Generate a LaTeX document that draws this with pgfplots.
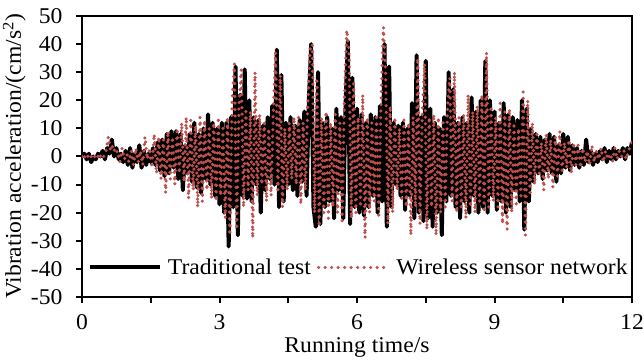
\documentclass[border=0pt]{standalone}
\usepackage{pgfplots}
\usepackage{pgfplotstable}
\pgfplotsset{compat=1.18}
\usepackage{fontspec}
\setmainfont{Liberation Serif}[FakeStretch=1.05]
\definecolor{wsnred}{RGB}{192,80,77}

% Acceleration record from the wired reference instrument
\pgfplotstableread[row sep=\\]{
t y \\
0.00 0 \\ 0.05 1 \\ 0.10 -1 \\ 0.15 1 \\ 0.20 -2 \\ 0.25 0 \\ 0.30 -1 \\ 0.35 1 \\ 0.40 0 \\ 0.45 2 \\
0.50 -1 \\ 0.55 3 \\ 0.60 1 \\ 0.65 6 \\ 0.70 0 \\ 0.75 3 \\ 0.80 -1 \\ 0.85 1 \\ 0.90 -2 \\ 0.95 2 \\
1.00 -3 \\ 1.05 3 \\ 1.10 -4 \\ 1.15 1 \\ 1.20 -2 \\ 1.25 4 \\ 1.30 -4 \\ 1.35 2 \\ 1.40 -3 \\ 1.45 1 \\
1.50 -2 \\ 1.55 3 \\ 1.60 -3 \\ 1.65 5 \\ 1.70 -5 \\ 1.75 6 \\ 1.80 -7 \\ 1.85 8 \\ 1.90 -6 \\ 1.95 9 \\
2.00 -4 \\ 2.05 9 \\ 2.10 -8 \\ 2.15 8 \\ 2.20 -12 \\ 2.25 4 \\ 2.30 -6 \\ 2.35 8 \\ 2.40 -9 \\ 2.45 12 \\
2.50 -11 \\ 2.55 8 \\ 2.60 -13 \\ 2.65 10 \\ 2.70 -8 \\ 2.75 15 \\ 2.80 -10 \\ 2.85 12 \\ 2.90 -14 \\ 2.95 10 \\
3.00 -17 \\ 3.05 12 \\ 3.10 -20 \\ 3.15 12 \\ 3.20 -32 \\ 3.25 14 \\ 3.30 -18 \\ 3.35 32 \\ 3.40 -28 \\ 3.45 22 \\
3.50 -14 \\ 3.55 31 \\ 3.60 -15 \\ 3.65 20 \\ 3.70 -16 \\ 3.75 14 \\ 3.80 -10 \\ 3.85 13 \\ 3.90 -20 \\ 3.95 11 \\
4.00 -12 \\ 4.05 14 \\ 4.10 -8 \\ 4.15 18 \\ 4.20 -10 \\ 4.25 38 \\ 4.30 -18 \\ 4.35 29 \\ 4.40 -16 \\ 4.45 12 \\
4.50 -10 \\ 4.55 14 \\ 4.60 -12 \\ 4.65 11 \\ 4.70 -14 \\ 4.75 13 \\ 4.80 -9 \\ 4.85 16 \\ 4.90 -14 \\ 4.95 20 \\
5.00 40 \\ 5.05 -18 \\ 5.10 -25 \\ 5.15 30 \\ 5.20 -24 \\ 5.25 12 \\ 5.30 -18 \\ 5.35 14 \\ 5.40 -16 \\ 5.45 10 \\
5.50 -22 \\ 5.55 17 \\ 5.60 -12 \\ 5.65 14 \\ 5.70 -22 \\ 5.75 18 \\ 5.80 41 \\ 5.85 -24 \\ 5.90 28 \\ 5.95 -18 \\
6.00 17 \\ 6.05 -20 \\ 6.10 15 \\ 6.15 -21 \\ 6.20 12 \\ 6.25 -18 \\ 6.30 15 \\ 6.35 -14 \\ 6.40 14 \\ 6.45 -20 \\
6.50 18 \\ 6.55 -16 \\ 6.60 40 \\ 6.65 -25 \\ 6.70 32 \\ 6.75 -18 \\ 6.80 12 \\ 6.85 -10 \\ 6.90 11 \\ 6.95 -14 \\
7.00 12 \\ 7.05 -19 \\ 7.10 10 \\ 7.15 -14 \\ 7.20 19 \\ 7.25 -22 \\ 7.30 36 \\ 7.35 -20 \\ 7.40 14 \\ 7.45 -23 \\
7.50 34 \\ 7.55 -22 \\ 7.60 17 \\ 7.65 -25 \\ 7.70 12 \\ 7.75 -20 \\ 7.80 10 \\ 7.85 -28 \\ 7.90 14 \\ 7.95 -16 \\
8.00 30 \\ 8.05 -14 \\ 8.10 24 \\ 8.15 -18 \\ 8.20 12 \\ 8.25 -22 \\ 8.30 14 \\ 8.35 -16 \\ 8.40 12 \\ 8.45 -20 \\
8.50 21 \\ 8.55 -14 \\ 8.60 16 \\ 8.65 -20 \\ 8.70 20 \\ 8.75 -18 \\ 8.80 34 \\ 8.85 -20 \\ 8.90 20 \\ 8.95 -14 \\
9.00 16 \\ 9.05 -19 \\ 9.10 12 \\ 9.15 -16 \\ 9.20 19 \\ 9.25 -20 \\ 9.30 15 \\ 9.35 -18 \\ 9.40 14 \\ 9.45 -12 \\
9.50 13 \\ 9.55 -16 \\ 9.60 20 \\ 9.65 -26 \\ 9.70 17 \\ 9.75 -16 \\ 9.80 10 \\ 9.85 -9 \\ 9.90 8 \\ 9.95 -6 \\
10.00 7 \\ 10.05 -8 \\ 10.10 6 \\ 10.15 -5 \\ 10.20 8 \\ 10.25 -6 \\ 10.30 7 \\ 10.35 -9 \\ 10.40 4 \\ 10.45 -6 \\
10.50 8 \\ 10.55 -4 \\ 10.60 7 \\ 10.65 -5 \\ 10.70 4 \\ 10.75 -3 \\ 10.80 3 \\ 10.85 -4 \\ 10.90 2 \\ 10.95 -3 \\
11.00 6 \\ 11.05 -2 \\ 11.10 2 \\ 11.15 -3 \\ 11.20 1 \\ 11.25 -2 \\ 11.30 2 \\ 11.35 -1 \\ 11.40 3 \\ 11.45 -2 \\
11.50 2 \\ 11.55 -1 \\ 11.60 3 \\ 11.65 -1 \\ 11.70 2 \\ 11.75 0 \\ 11.80 3 \\ 11.85 -1 \\ 11.90 3 \\ 11.95 1 \\
12.00 5 \\
}\traditional

% Acceleration record from the wireless sensor network
\pgfplotstableread[row sep=\\]{
t y \\
0.000 0 \\
0.025 1 \\ 0.075 -1 \\ 0.125 0 \\ 0.175 1 \\ 0.225 -1 \\ 0.275 0 \\ 0.325 1 \\ 0.375 -1 \\ 0.425 1 \\ 0.475 0 \\
0.525 2 \\ 0.575 7 \\ 0.625 2 \\ 0.675 4 \\ 0.725 1 \\ 0.775 2 \\ 0.825 -2 \\ 0.875 3 \\ 0.925 -1 \\ 0.975 1 \\
1.025 -2 \\ 1.075 2 \\ 1.125 -3 \\ 1.175 3 \\ 1.225 -2 \\ 1.275 2 \\ 1.325 -3 \\ 1.375 7 \\ 1.425 -1 \\ 1.475 3 \\
1.525 -4 \\ 1.575 8 \\ 1.625 -6 \\ 1.675 7 \\ 1.725 -8 \\ 1.775 6 \\ 1.825 -13 \\ 1.875 9 \\ 1.925 -8 \\ 1.975 7 \\
2.025 -10 \\ 2.075 10 \\ 2.125 -6 \\ 2.175 12 \\ 2.225 -9 \\ 2.275 14 \\ 2.325 -15 \\ 2.375 13 \\ 2.425 -12 \\ 2.475 11 \\
2.525 -18 \\ 2.575 14 \\ 2.625 -16 \\ 2.675 13 \\ 2.725 -12 \\ 2.775 10 \\ 2.825 -15 \\ 2.875 12 \\ 2.925 -16 \\ 2.975 14 \\
3.025 -14 \\ 3.075 10 \\ 3.125 -22 \\ 3.175 14 \\ 3.225 -28 \\ 3.275 20 \\ 3.325 33 \\ 3.375 -26 \\ 3.425 18 \\ 3.475 31 \\
3.525 -18 \\ 3.575 16 \\ 3.625 -12 \\ 3.675 16 \\ 3.725 -29 \\ 3.775 30 \\ 3.825 -14 \\ 3.875 15 \\ 3.925 -10 \\ 3.975 12 \\
4.025 -16 \\ 4.075 10 \\ 4.125 -14 \\ 4.175 16 \\ 4.225 37 \\ 4.275 -12 \\ 4.325 29 \\ 4.375 -18 \\ 4.425 10 \\ 4.475 -12 \\
4.525 12 \\ 4.575 -8 \\ 4.625 14 \\ 4.675 -10 \\ 4.725 15 \\ 4.775 -17 \\ 4.825 12 \\ 4.875 -12 \\ 4.925 18 \\ 4.975 38 \\
5.025 40 \\ 5.075 -20 \\ 5.125 28 \\ 5.175 -25 \\ 5.225 14 \\ 5.275 -20 \\ 5.325 16 \\ 5.375 -22 \\ 5.425 12 \\ 5.475 -18 \\
5.525 15 \\ 5.575 -20 \\ 5.625 12 \\ 5.675 -24 \\ 5.725 20 \\ 5.775 45 \\ 5.825 38 \\ 5.875 -22 \\ 5.925 26 \\ 5.975 -20 \\
6.025 14 \\ 6.075 -18 \\ 6.125 22 \\ 6.175 -29 \\ 6.225 14 \\ 6.275 -20 \\ 6.325 12 \\ 6.375 -16 \\ 6.425 15 \\ 6.475 -22 \\
6.525 20 \\ 6.575 46 \\ 6.625 30 \\ 6.675 -24 \\ 6.725 18 \\ 6.775 -20 \\ 6.825 14 \\ 6.875 -12 \\ 6.925 10 \\ 6.975 -16 \\
7.025 13 \\ 7.075 -18 \\ 7.125 12 \\ 7.175 -28 \\ 7.225 14 \\ 7.275 -18 \\ 7.325 35 \\ 7.375 -24 \\ 7.425 16 \\ 7.475 33 \\
7.525 -26 \\ 7.575 14 \\ 7.625 -18 \\ 7.675 15 \\ 7.725 -28 \\ 7.775 14 \\ 7.825 -20 \\ 7.875 12 \\ 7.925 -18 \\ 7.975 18 \\
8.025 28 \\ 8.075 -16 \\ 8.125 30 \\ 8.175 -20 \\ 8.225 14 \\ 8.275 -18 \\ 8.325 15 \\ 8.375 -22 \\ 8.425 22 \\ 8.475 -18 \\
8.525 16 \\ 8.575 -20 \\ 8.625 18 \\ 8.675 -16 \\ 8.725 22 \\ 8.775 -20 \\ 8.825 37 \\ 8.875 -18 \\ 8.925 18 \\ 8.975 -16 \\
9.025 14 \\ 9.075 -18 \\ 9.125 19 \\ 9.175 -24 \\ 9.225 16 \\ 9.275 -26 \\ 9.325 17 \\ 9.375 -20 \\ 9.425 12 \\ 9.475 -18 \\
9.525 10 \\ 9.575 -14 \\ 9.625 23 \\ 9.675 -28 \\ 9.725 20 \\ 9.775 -14 \\ 9.825 12 \\ 9.875 -10 \\ 9.925 9 \\ 9.975 -6 \\
10.025 5 \\ 10.075 -12 \\ 10.125 8 \\ 10.175 -8 \\ 10.225 6 \\ 10.275 -11 \\ 10.325 7 \\ 10.375 -7 \\ 10.425 9 \\ 10.475 -5 \\
10.525 5 \\ 10.575 -4 \\ 10.625 6 \\ 10.675 -6 \\ 10.725 5 \\ 10.775 -3 \\ 10.825 4 \\ 10.875 -4 \\ 10.925 3 \\ 10.975 -2 \\
11.025 2 \\ 11.075 -3 \\ 11.125 4 \\ 11.175 -2 \\ 11.225 2 \\ 11.275 -1 \\ 11.325 3 \\ 11.375 -2 \\ 11.425 2 \\ 11.475 -1 \\
11.525 1 \\ 11.575 -2 \\ 11.625 3 \\ 11.675 -1 \\ 11.725 2 \\ 11.775 0 \\ 11.825 2 \\ 11.875 -1 \\ 11.925 2 \\ 11.975 4 \\
12.000 6 \\
}\wireless

\begin{document}
\begin{tikzpicture}
\begin{axis}[
  at={(0,0)}, anchor=south west,
  scale only axis,
  width=550bp, height=281bp,
  xmin=0, xmax=12, ymin=-50, ymax=50,
  font=\fontsize{22.5bp}{27bp}\selectfont,
  axis line style={line width=2bp},
  every tick/.style={black, line width=2bp},
  tick align=outside, major tick length=6bp,
  tick pos=left,
  xtick={0,1.5,...,12},
  xticklabels={0,,3,,6,,9,,12},
  ytick={-50,-40,...,50},
  yticklabels={-50,-40,-30,-20,-10,0,10,20,30,40,50},
  xticklabel style={yshift=-8bp},
  yticklabel style={xshift=-10bp},
  xlabel={Running time/s},
  xlabel style={at={(axis description cs:0.5,0)}, anchor=base, yshift=-55bp},
  ylabel={Vibration acceleration/(cm/s\textsuperscript{2})},
  ylabel style={at={(axis description cs:-0.111,0.5)}, anchor=base},
  legend columns=2,
  legend style={draw=none, fill=none, inner sep=0pt, outer sep=0pt,
    at={(axis description cs:0,0)}, anchor=south west, xshift=6bp, yshift=21bp,
    nodes={inner sep=0pt},
    /tikz/every odd column/.append style={column sep=6bp},
    /tikz/every even column/.append style={column sep=6bp}},
  legend image code/.code={\draw[#1] (0bp,0bp) -- (70bp,0bp);},
]
\addplot[black, line width=4bp, line join=round] table[x=t, y=y] {\traditional};
\addlegendentry{Traditional test}
\addplot[wsnred, line width=3.5bp, line cap=round, line join=round,
  dash pattern=on 0bp off 6.5bp] table[x=t, y=y] {\wireless};
\addlegendentry{Wireless sensor network}
\end{axis}
\pgfresetboundingbox
\path[use as bounding box] (-82bp,-66bp) rectangle (562bp,297bp);
\end{tikzpicture}
\end{document}
